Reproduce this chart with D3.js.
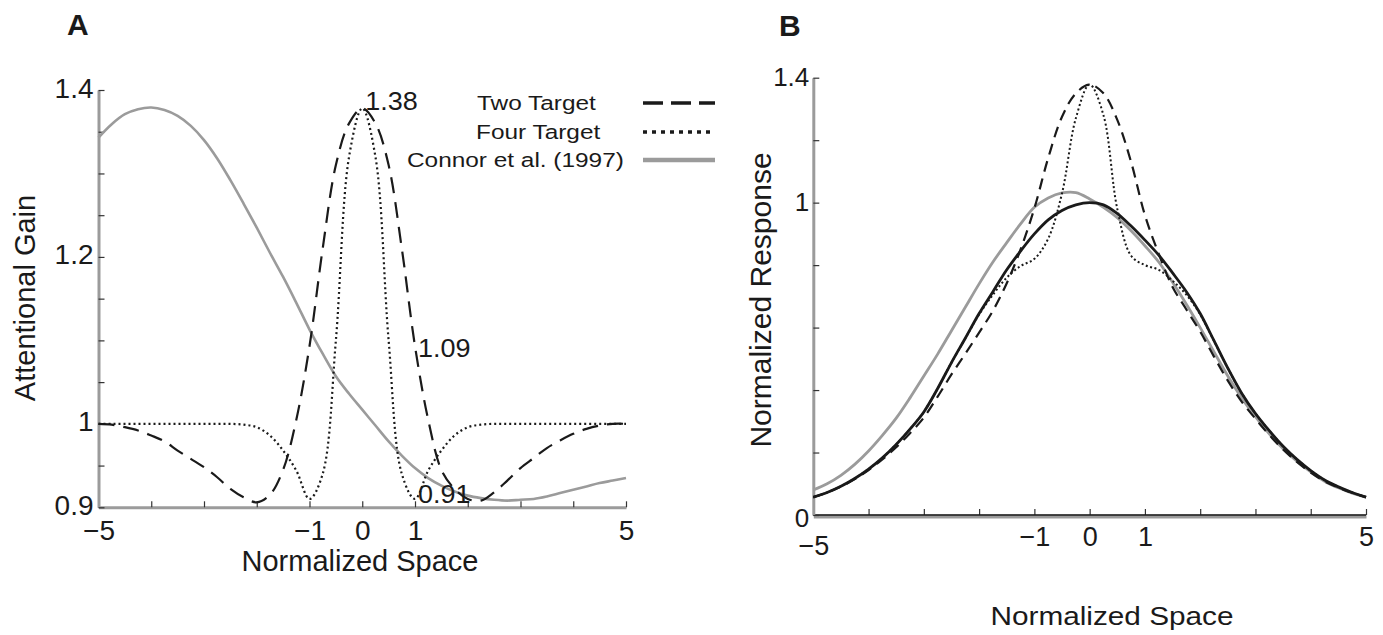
<!DOCTYPE html>
<html>
<head>
<meta charset="utf-8">
<script src="https://cdn.jsdelivr.net/npm/d3@7"></script>
<style>
  body { margin: 0; background: #fff; }
  text { font-family: "Liberation Sans", Arial, Helvetica, sans-serif; fill: #1a1a1a; }
</style>
</head>
<body>
<div id="screen"></div>
<script>
// sample positions along normalized space
var space = [-5, -4.75, -4.5, -4.25, -4, -3.75, -3.5, -3.25, -3, -2.75, -2.5, -2.25, -2, -1.75, -1.5, -1.25, -1, -0.75, -0.5, -0.25,
             0, 0.25, 0.5, 0.75, 1, 1.25, 1.5, 1.75, 2, 2.25, 2.5, 2.75, 3, 3.25, 3.5, 3.75, 4, 4.25, 4.5, 4.75, 5];

// panel A: attentional gain
var gainTwo    = [1.0, 0.999, 0.996, 0.992, 0.986, 0.979, 0.968, 0.958, 0.948, 0.936, 0.922, 0.912, 0.906, 0.915, 0.945, 1.005, 1.093, 1.21, 1.31, 1.36,
                  1.378, 1.36, 1.31, 1.21, 1.093, 1.005, 0.945, 0.922, 0.91, 0.908, 0.918, 0.932, 0.947, 0.959, 0.971, 0.98, 0.988, 0.994, 0.998, 1.0, 1.0];
var gainFour   = [1, 1, 1, 1, 1, 1, 1, 1, 1, 1, 1, 0.999, 0.996, 0.986, 0.968, 0.944, 0.91, 0.94, 1.10, 1.32,
                  1.378, 1.32, 1.10, 0.94, 0.91, 0.944, 0.968, 0.986, 0.996, 0.999, 1, 1, 1, 1, 1, 1, 1, 1, 1, 1, 1];
var gainConnor = [1.343, 1.359, 1.371, 1.377, 1.379, 1.376, 1.369, 1.357, 1.34, 1.318, 1.292, 1.264, 1.235, 1.205, 1.176, 1.145, 1.113, 1.084, 1.057, 1.036,
                  1.017, 0.998, 0.979, 0.962, 0.947, 0.935, 0.926, 0.919, 0.914, 0.911, 0.909, 0.908, 0.909, 0.91, 0.913, 0.917, 0.921, 0.925, 0.929, 0.932, 0.935];

// panel B: normalized response
var respBase   = [0.057, 0.072, 0.092, 0.117, 0.147, 0.183, 0.226, 0.275, 0.33, 0.405, 0.488, 0.566, 0.645, 0.715, 0.785, 0.845, 0.9, 0.945, 0.975, 0.993,
                  1.0, 0.993, 0.965, 0.925, 0.88, 0.832, 0.775, 0.715, 0.645, 0.558, 0.47, 0.39, 0.325, 0.27, 0.22, 0.178, 0.142, 0.112, 0.09, 0.072, 0.057];
var respTwo    = [0.057, 0.072, 0.091, 0.115, 0.144, 0.178, 0.217, 0.262, 0.312, 0.379, 0.45, 0.516, 0.584, 0.654, 0.742, 0.85, 0.982, 1.143, 1.275, 1.35,
                  1.378, 1.35, 1.265, 1.13, 0.96, 0.836, 0.73, 0.658, 0.587, 0.507, 0.43, 0.363, 0.308, 0.256, 0.21, 0.17, 0.136, 0.108, 0.088, 0.071, 0.057];
var respFour   = [0.057, 0.072, 0.092, 0.117, 0.147, 0.183, 0.226, 0.275, 0.33, 0.405, 0.488, 0.565, 0.642, 0.705, 0.76, 0.797, 0.82, 0.885, 1.03, 1.27,
                  1.378, 1.28, 0.98, 0.83, 0.8, 0.785, 0.75, 0.705, 0.642, 0.557, 0.47, 0.39, 0.325, 0.27, 0.22, 0.178, 0.142, 0.112, 0.09, 0.072, 0.057];
var respConnor = [0.08, 0.1, 0.127, 0.162, 0.205, 0.255, 0.31, 0.375, 0.445, 0.515, 0.59, 0.665, 0.74, 0.81, 0.872, 0.932, 0.985, 1.015, 1.031, 1.032,
                  1.012, 0.985, 0.952, 0.91, 0.862, 0.81, 0.745, 0.675, 0.6, 0.522, 0.445, 0.375, 0.315, 0.26, 0.212, 0.172, 0.138, 0.108, 0.087, 0.07, 0.057];

var ticksX     = [-5, -4, -3, -2, -1, 0, 1, 2, 3, 4, 5],
    labelsX    = [-5, -1, 0, 1, 5],
    ticksAy    = [0.9, 0.95, 1, 1.05, 1.1, 1.15, 1.2, 1.25, 1.3, 1.35, 1.4],
    labelsAy   = [0.9, 1, 1.2, 1.4],
    ticksBy    = [0, 0.2, 0.4, 0.6, 0.8, 1, 1.2, 1.4],
    labelsBy   = [0, 1, 1.4];

var legendLabels = ['Two Target', 'Four Target', 'Connor et al. (1997)'];
var noteX      = [0, 1, 1],
    noteValues = [1.38, 1.09, 0.91];

var BLACK = '#1a1a1a', GREY = '#9b9b9b';

var svg = d3.select('#screen')
            .append('svg')
            .attr('width', 1383)
            .attr('height', 635);

var xA = d3.scaleLinear().domain([-5, 5]).range([98.5, 626]),
    yA = d3.scaleLinear().domain([0.9, 1.4]).range([507.3, 90]),
    xB = d3.scaleLinear().domain([-5, 5]).range([813.3, 1366]),
    yB = d3.scaleLinear().domain([0, 1.4]).range([515, 77.7]);

var fmt = function(list) {
  return function(d) {
    if (list.indexOf(d) < 0) return '';
    return d < 0 ? '\u2212' + (-d) : String(d);
  };
};

var label = function(x, y, str, size, sx, anchor, weight) {
  return svg.append('text')
            .attr('transform', 'translate(' + x + ',' + y + ') scale(' + sx + ',1)')
            .attr('text-anchor', anchor || 'start')
            .style('font-size', size + 'px')
            .style('font-weight', weight || 'normal')
            .text(str);
};

var styleAxis = function(g, size) {
  g.select('.domain').attr('stroke', GREY).attr('stroke-width', 3);
  g.selectAll('.tick line').attr('stroke', '#333').attr('stroke-width', 1.2);
  g.selectAll('.tick text')
   .attr('fill', BLACK)
   .style('font-family', '"Liberation Sans", Arial, sans-serif')
   .style('font-size', size + 'px');
};

// ---------- panel A ----------
var axA_x = svg.append('g')
               .attr('transform', 'translate(0,' + yA(0.9) + ')')
               .call(d3.axisBottom(xA).tickValues(ticksX).tickFormat(fmt(labelsX))
                       .tickSizeInner(-6).tickSizeOuter(0).tickPadding(13));
styleAxis(axA_x, 28);

var axA_y = svg.append('g')
               .attr('transform', 'translate(' + xA(-5) + ',0)')
               .call(d3.axisLeft(yA).tickValues(ticksAy).tickFormat(fmt(labelsAy))
                       .tickSizeInner(-6).tickSizeOuter(0).tickPadding(5));
styleAxis(axA_y, 28);
axA_y.selectAll('.tick text').attr('dy', '0.25em');

var lineA = d3.line()
              .x(function(d) { return xA(d[0]); })
              .y(function(d) { return yA(d[1]); })
              .curve(d3.curveCatmullRom.alpha(0.5));

var seriesA = [
  { values: gainConnor, stroke: GREY,  width: 2.6, dash: null },
  { values: gainTwo,    stroke: BLACK, width: 2.2, dash: '16,9' },
  { values: gainFour,   stroke: BLACK, width: 2.2, dash: '2,3' }
];

svg.append('g')
   .selectAll('path')
   .data(seriesA)
   .enter()
     .append('path')
     .attr('fill', 'none')
     .attr('stroke', function(d) { return d.stroke; })
     .attr('stroke-width', function(d) { return d.width; })
     .attr('stroke-dasharray', function(d) { return d.dash; })
     .attr('d', function(d) { return lineA(d3.zip(space, d.values)); });

// value notes
var noteDx = [3, 3, 3], noteDy = [3, 8, 4];
noteValues.forEach(function(v, i) {
  label(xA(noteX[i]) + noteDx[i], yA(v) + noteDy[i], String(v), 25, 1.08);
});

// legend
var legendY = [103, 132, 160],
    legendX = [477, 476, 407],
    legendStyles = [
      { stroke: BLACK, width: 3.5, dash: '20,8' },
      { stroke: BLACK, width: 3.5, dash: '4,5' },
      { stroke: GREY,  width: 4.5, dash: null }
    ];
legendLabels.forEach(function(t, i) {
  label(legendX[i], legendY[i] + 6.5, t, 20.5, 1.19);
  svg.append('line')
     .attr('x1', 643).attr('x2', 715)
     .attr('y1', legendY[i]).attr('y2', legendY[i])
     .attr('stroke', legendStyles[i].stroke)
     .attr('stroke-width', legendStyles[i].width)
     .attr('stroke-dasharray', legendStyles[i].dash);
});

label(360, 571, 'Normalized Space', 29, 1.0, 'middle');
label(0, 0, 'Attentional Gain', 29, 1.0, 'middle')
  .attr('transform', 'translate(35,298) rotate(-90)');
label(67, 35, 'A', 30, 1.0, 'start', 'bold');

// ---------- panel B ----------
var axB_x = svg.append('g')
               .attr('transform', 'translate(0,' + yB(0) + ')')
               .call(d3.axisBottom(xB).tickValues(ticksX).tickFormat(fmt(labelsX))
                       .tickSizeInner(-6).tickSizeOuter(0).tickPadding(12));
styleAxis(axB_x, 27);
axB_x.select('.domain').attr('stroke-width', 4).attr('transform', 'translate(0,1)');
axB_x.append('line')
     .attr('x1', xB(-5)).attr('x2', xB(5))
     .attr('stroke', BLACK).attr('stroke-width', 1.6);
// the -5 label sits a little lower, below the y-axis "0"
axB_x.selectAll('.tick text')
     .attr('dy', function(d) { return d === -5 ? '1.05em' : '0.71em'; });

var axB_y = svg.append('g')
               .attr('transform', 'translate(' + xB(-5) + ',0)')
               .call(d3.axisLeft(yB).tickValues(ticksBy).tickFormat(fmt(labelsBy))
                       .tickSizeInner(-6).tickSizeOuter(0).tickPadding(4));
styleAxis(axB_y, 26);
axB_y.selectAll('.tick text').attr('dy', function(d) { return d === 0 ? '0.45em' : '0.3em'; });

var lineB = d3.line()
              .x(function(d) { return xB(d[0]); })
              .y(function(d) { return yB(d[1]); })
              .curve(d3.curveCatmullRom.alpha(0.5));

var seriesB = [
  { values: respConnor, stroke: GREY,  width: 2.8, dash: null },
  { values: respBase,   stroke: BLACK, width: 2.8, dash: null },
  { values: respTwo,    stroke: BLACK, width: 2.2, dash: '11,7' },
  { values: respFour,   stroke: BLACK, width: 2.0, dash: '2,2.5' }
];

svg.append('g')
   .selectAll('path')
   .data(seriesB)
   .enter()
     .append('path')
     .attr('fill', 'none')
     .attr('stroke', function(d) { return d.stroke; })
     .attr('stroke-width', function(d) { return d.width; })
     .attr('stroke-dasharray', function(d) { return d.dash; })
     .attr('d', function(d) { return lineB(d3.zip(space, d.values)); });

label(1112, 625, 'Normalized Space', 25, 1.19, 'middle');
label(0, 0, 'Normalized Response', 30, 1.0, 'middle')
  .attr('transform', 'translate(771,300) rotate(-90)');
label(779, 36, 'B', 30, 1.0, 'start', 'bold');
</script>
</body>
</html>
